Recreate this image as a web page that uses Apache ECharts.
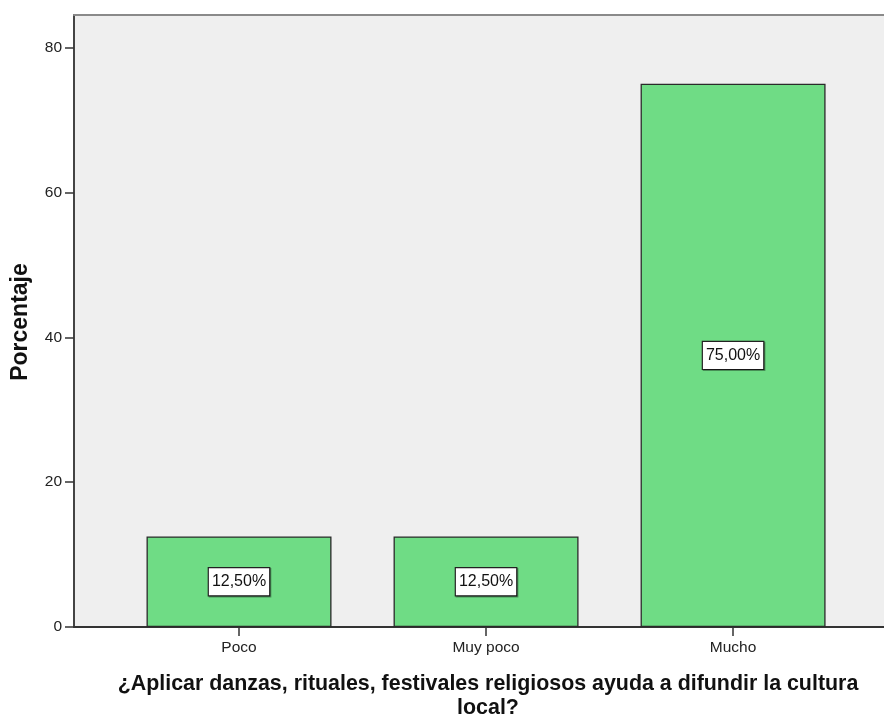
<!DOCTYPE html>
<html>
<head>
<meta charset="utf-8">
<title>Porcentaje</title>
<script src="https://cdn.jsdelivr.net/npm/echarts@6/dist/echarts.min.js"></script>
<style>
  html, body { margin: 0; padding: 0; background: #ffffff; }
  #chart { width: 884px; height: 715px; }
</style>
</head>
<body>
<div id="chart"></div>
<script>
// Respuestas y porcentajes
const categories = ['Poco', 'Muy poco', 'Mucho'];
const porcentajes = [12.5, 12.5, 75];
const yTicks = [0, 20, 40, 60, 80];
const xTitle = '¿Aplicar danzas, rituales, festivales religiosos ayuda a difundir la cultura\nlocal?';
const yTitle = 'Porcentaje';

const FONT = '"Liberation Sans", Arial, sans-serif';
const fmtPct = v => v.toFixed(2).replace('.', ',') + '%';
const catIndex = categories.map((_, i) => i);
const X_MIN = -0.668;
const X_MAX = 2.611;

const chart = echarts.init(document.getElementById('chart'), null, { renderer: 'canvas' });

chart.setOption({
  animation: false,
  backgroundColor: '#ffffff',
  grid: {
    left: 74,
    top: 15,
    right: 0,
    bottom: 88,
    show: true,
    backgroundColor: '#efefef',
    borderWidth: 0
  },
  xAxis: [
    {
      type: 'value',
      min: X_MIN,
      max: X_MAX,
      splitLine: { show: false },
      axisLine: { show: true, onZero: false, lineStyle: { color: '#333333', width: 2 } },
      axisTick: {
        show: true,
        customValues: catIndex,
        length: 9,
        lineStyle: { color: '#333333', width: 1.5 }
      },
      axisLabel: {
        customValues: catIndex,
        formatter: v => categories[Math.round(v)] || '',
        margin: 13,
        fontFamily: FONT,
        fontSize: 15.5,
        color: '#222222'
      }
    },
    {
      // top frame line of the plot area
      type: 'value',
      position: 'top',
      min: X_MIN,
      max: X_MAX,
      splitLine: { show: false },
      axisLine: { show: true, onZero: false, lineStyle: { color: '#8a8a8a', width: 2 } },
      axisTick: { show: false },
      axisLabel: { show: false }
    }
  ],
  yAxis: {
    type: 'value',
    min: 0,
    max: 84.5,
    splitLine: { show: false },
    axisLine: { show: true, onZero: false, lineStyle: { color: '#444444', width: 2 } },
    axisTick: {
      show: true,
      customValues: yTicks,
      length: 9,
      lineStyle: { color: '#333333', width: 1.5 }
    },
    axisLabel: {
      customValues: yTicks,
      margin: 12,
      fontFamily: FONT,
      fontSize: 15.5,
      color: '#222222'
    }
  },
  series: [{
    type: 'bar',
    xAxisIndex: 0,
    data: porcentajes.map((v, i) => [i, v]),
    barWidth: 185,
    itemStyle: {
      color: '#6fdc85',
      borderColor: '#2a2a2a',
      borderWidth: 1.3
    },
    label: {
      show: true,
      position: 'inside',
      formatter: p => fmtPct(p.value[1]),
      fontFamily: FONT,
      fontSize: 16,
      color: '#111111',
      backgroundColor: '#ffffff',
      borderColor: '#222222',
      borderWidth: 1.2,
      padding: [5, 3, 4, 3],
      lineHeight: 18,
      shadowColor: 'rgba(0,0,0,0.35)',
      shadowOffsetX: 1,
      shadowOffsetY: 1
    }
  }],
  graphic: [
    {
      type: 'text',
      x: 488,
      y: 672,
      style: {
        text: xTitle,
        fontFamily: FONT,
        fontWeight: 'bold',
        fontSize: 21.4,
        lineHeight: 24,
        fill: '#111111',
        textAlign: 'center',
        textVerticalAlign: 'top'
      }
    },
    {
      type: 'text',
      x: 21,
      y: 322,
      rotation: Math.PI / 2,
      style: {
        text: yTitle,
        fontFamily: FONT,
        fontWeight: 'bold',
        fontSize: 23,
        fill: '#111111',
        textAlign: 'center',
        textVerticalAlign: 'middle'
      }
    }
  ]
});
</script>
</body>
</html>
